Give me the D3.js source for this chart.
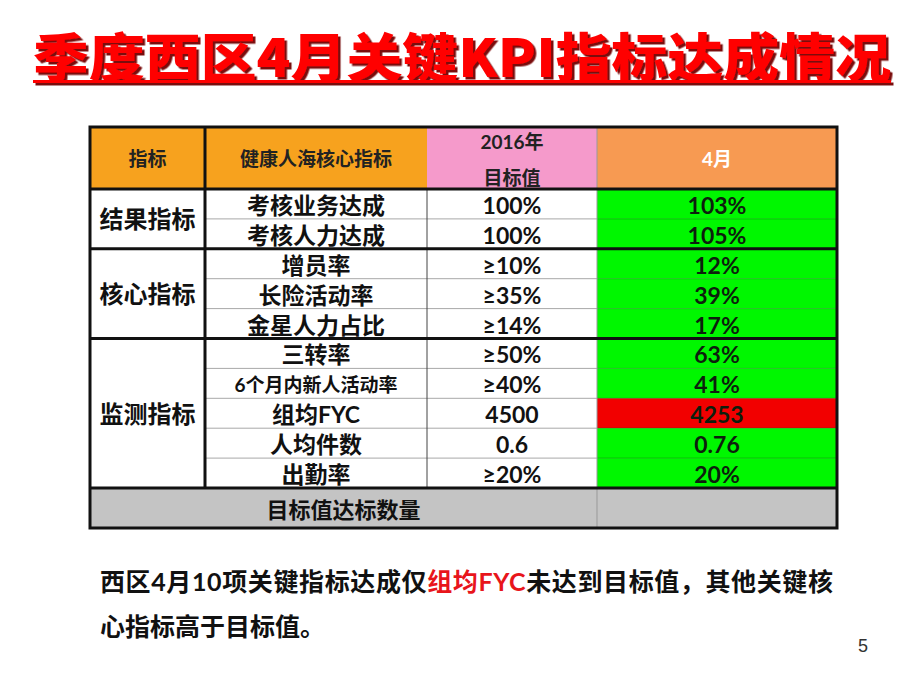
<!DOCTYPE html>
<html><head><meta charset="utf-8">
<script src="https://cdn.jsdelivr.net/npm/d3@7/dist/d3.min.js"></script>
<style>body{margin:0;background:#fff}svg{display:block}</style>
</head><body>
<script>
// ---- data ----
const title = "季度西区4月关键KPI指标达成情况";
const headers = ["指标", "健康人海核心指标", ["2016年", "目标值"], "4月"];
const groups = [
  {name: "结果指标", count: 2},
  {name: "核心指标", count: 3},
  {name: "监测指标", count: 5}
];
const indicators = ["考核业务达成", "考核人力达成", "增员率", "长险活动率", "金星人力占比",
                    "三转率", "6个月内新人活动率", "组均FYC", "人均件数", "出勤率"];
const targets = ["100%", "100%", "≥10%", "≥35%", "≥14%", "≥50%", "≥40%", "4500", "0.6", "≥20%"];
const aprilValues = ["103%", "105%", "12%", "39%", "17%", "63%", "41%", "4253", "0.76", "20%"];
const aprilMet = [true, true, true, true, true, true, true, false, true, true];
const footerLabel = "目标值达标数量";
const noteParts = [
  {t: "西区4月10项关键指标达成仅", red: false},
  {t: "组均FYC", red: true},
  {t: "未达到目标值，其他关键核", red: false}
];
const noteLine2 = "心指标高于目标值。";
const pageNo = "5";

// ---- layout ----
const W = 920, H = 690;
const svg = d3.select("body").append("svg").attr("width", W).attr("height", H);
const FONT = "'Noto Sans CJK SC','Noto Sans',sans-serif";
const TFONT = "Lato,'Noto Sans CJK SC',sans-serif";

const defs = svg.append("defs");
defs.append("filter").attr("id", "shadow").attr("x", "-5%").attr("y", "-20%").attr("width", "110%").attr("height", "140%")
  .append("feDropShadow").attr("dx", 2.5).attr("dy", 2.5).attr("stdDeviation", 0.4)
  .attr("flood-color", "#7a0808").attr("flood-opacity", 1);

const colX = [90, 205, 427, 597, 837];
const headTop = 127, headBot = 189, bodyBot = 488, footBot = 528;
const y = d3.scaleBand().domain(d3.range(indicators.length)).range([headBot, bodyBot]);

// Title
const tg = svg.append("g").attr("filter", "url(#shadow)");
tg.append("text").attr("x", 33).attr("y", 77)
  .attr("font-family", FONT).attr("font-weight", 900).attr("font-size", 52)
  .attr("textLength", 858).attr("lengthAdjust", "spacingAndGlyphs")
  .attr("fill", "#f00").text(title);
tg.append("rect").attr("x", 33).attr("y", 80).attr("width", 858).attr("height", 3).attr("fill", "#f00");

// Header backgrounds
svg.append("rect").attr("x", colX[0]).attr("y", headTop).attr("width", colX[2] - colX[0]).attr("height", headBot - headTop).attr("fill", "#F7A21E");
svg.append("rect").attr("x", colX[2]).attr("y", headTop).attr("width", colX[3] - colX[2]).attr("height", headBot - headTop).attr("fill", "#F59ACB");
svg.append("rect").attr("x", colX[3]).attr("y", headTop).attr("width", colX[4] - colX[3]).attr("height", headBot - headTop).attr("fill", "#F79A52");

// April cells
svg.selectAll("rect.apr").data(aprilMet).join("rect")
  .attr("x", colX[3]).attr("y", (d, i) => y(i)).attr("width", colX[4] - colX[3]).attr("height", y.bandwidth())
  .attr("fill", d => d ? "#00F700" : "#F20000");

// Footer background
svg.append("rect").attr("x", colX[0]).attr("y", bodyBot).attr("width", colX[4] - colX[0]).attr("height", footBot - bodyBot).attr("fill", "#C4C4C4");

// Header texts
const hcx = i => (colX[i] + colX[i + 1]) / 2;
const hcy = (headTop + headBot) / 2;
[0, 1].forEach(i => svg.append("text").attr("x", hcx(i)).attr("y", hcy).attr("text-anchor", "middle")
  .attr("dominant-baseline", "central").attr("font-family", TFONT).attr("font-weight", 700)
  .attr("font-size", 19).attr("fill", "#222").text(headers[i]));
headers[2].forEach((t, k) => svg.append("text").attr("x", hcx(2)).attr("y", hcy + (k ? 19 : -17))
  .attr("text-anchor", "middle").attr("dominant-baseline", "central").attr("font-family", TFONT)
  .attr("font-weight", 700).attr("font-size", 19).attr("fill", "#222").text(t));
svg.append("text").attr("x", hcx(3)).attr("y", hcy).attr("text-anchor", "middle")
  .attr("dominant-baseline", "central").attr("font-family", TFONT).attr("font-weight", 700)
  .attr("font-size", 19).attr("fill", "#fff").text(headers[3]);

// Body texts
const body = (arr, col, fill) => svg.append("g").selectAll("text").data(arr).join("text")
  .attr("x", hcx(col)).attr("y", (d, i) => y(i) + y.bandwidth() / 2 + 1)
  .attr("text-anchor", "middle").attr("dominant-baseline", "central")
  .attr("font-family", TFONT).attr("font-weight", 700)
  .attr("font-size", d => d.length > 7 ? 19 : 23).attr("fill", fill).text(d => d);
body(indicators, 1, "#111");
body(targets, 2, "#111");
body(aprilValues, 3, "#0d1f0d");

// Group labels
let start = 0;
const groupBounds = [];
groups.forEach(g => {
  const top = y(start), bot = y(start + g.count - 1) + y.bandwidth();
  svg.append("text").attr("x", hcx(0)).attr("y", (top + bot) / 2)
    .attr("text-anchor", "middle").attr("dominant-baseline", "central")
    .attr("font-family", TFONT).attr("font-weight", 700).attr("font-size", 24).attr("fill", "#111").text(g.name);
  groupBounds.push([start, start + g.count]);
  start += g.count;
});

// Footer text
svg.append("text").attr("x", (colX[0] + colX[3]) / 2).attr("y", (bodyBot + footBot) / 2 + 1)
  .attr("text-anchor", "middle").attr("dominant-baseline", "central")
  .attr("font-family", TFONT).attr("font-weight", 700).attr("font-size", 22).attr("fill", "#111").text(footerLabel);

// Thin row lines
const thin = svg.append("g");
groupBounds.forEach(([s, e]) => {
  for (let i = s + 1; i < e; i++) {
    thin.append("line").attr("x1", colX[1]).attr("x2", colX[3]).attr("y1", y(i)).attr("y2", y(i))
      .attr("stroke", "#a8a8a8").attr("stroke-width", 1);
    thin.append("line").attr("x1", colX[3]).attr("x2", colX[4]).attr("y1", y(i)).attr("y2", y(i))
      .attr("stroke", "rgba(0,80,0,0.35)").attr("stroke-width", 1);
  }
});
// Thin vertical lines
thin.append("line").attr("x1", colX[2]).attr("x2", colX[2]).attr("y1", headBot).attr("y2", bodyBot).attr("stroke", "#444").attr("stroke-width", 1);
thin.append("line").attr("x1", colX[3]).attr("x2", colX[3]).attr("y1", headTop).attr("y2", footBot).attr("stroke", "#999").attr("stroke-width", 1);

// Thick lines
const thick = svg.append("g").attr("stroke", "#111").attr("stroke-width", 3);
thick.append("line").attr("x1", colX[1]).attr("x2", colX[1]).attr("y1", headTop).attr("y2", bodyBot);
[headBot, bodyBot].concat(groupBounds.slice(1).map(b => y(b[0]))).forEach(v =>
  thick.append("line").attr("x1", colX[0]).attr("x2", colX[4]).attr("y1", v).attr("y2", v));
thick.append("rect").attr("x", colX[0]).attr("y", headTop).attr("width", colX[4] - colX[0]).attr("height", footBot - headTop).attr("fill", "none");

// Note
const note = svg.append("text").attr("x", 100).attr("y", 591).attr("font-family", TFONT)
  .attr("font-weight", 700).attr("font-size", 25).attr("textLength", 733).attr("lengthAdjust", "spacing").attr("fill", "#111");
note.selectAll("tspan").data(noteParts).join("tspan").attr("fill", d => d.red ? "#E8151B" : "#111").text(d => d.t);
svg.append("text").attr("x", 100).attr("y", 636).attr("font-family", TFONT)
  .attr("font-weight", 700).attr("font-size", 25).attr("fill", "#111").text(noteLine2);

// Page number
svg.append("text").attr("x", 858).attr("y", 652).attr("font-family", "'Liberation Sans',Arial,sans-serif")
  .attr("font-size", 18).attr("fill", "#333").text(pageNo);
</script>
</body></html>
